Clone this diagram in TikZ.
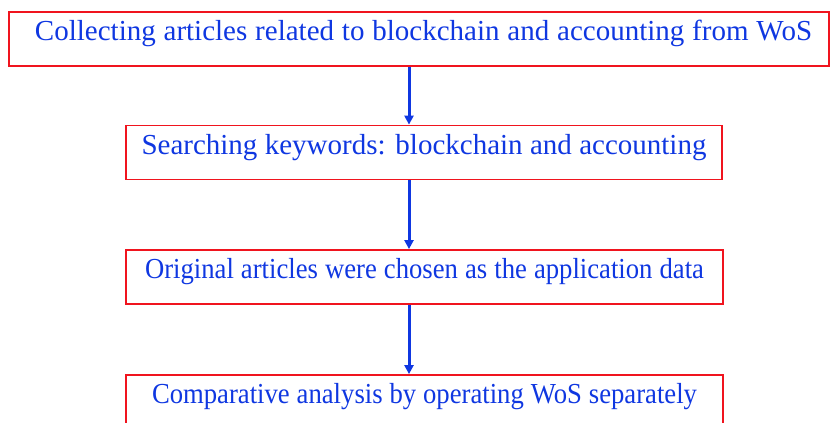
\documentclass[tikz,border=0pt]{standalone}
\usepackage{fontspec}
\setmainfont{Liberation Serif}
\usepackage{tikz}
\usetikzlibrary{arrows.meta}

\definecolor{boxred}{RGB}{240,20,30}
\definecolor{textblue}{RGB}{15,55,225}

\begin{document}
\begin{tikzpicture}[x=1pt,y=-1pt,
  thick,step box/.style={rectangle,draw=boxred,line width=1.8pt,
    text=textblue,font=\fontsize{29}{34}\selectfont,
    minimum height=54pt,inner sep=0pt,text height=20pt,text depth=16.8pt},
  narrow/.style={font=\fontsize{29}{34}\selectfont\addfontfeatures{FakeStretch=0.92}},
  flow arrow/.style={draw=textblue,line width=3pt,
    -{Triangle[length=9pt,width=9pt]}}]
  \useasboundingbox (0,0) rectangle (830,423);

  \node[step box,minimum width=820pt] (1) at (419,39)
    {\makebox[786pt][s]{\hspace{9pt}Collecting articles related to blockchain and accounting from WoS}};
  \node[step box,minimum width=596pt] (2) at (424,152.5)
    {\makebox[565pt][s]{Searching keywords: blockchain and accounting}};
  \node[step box,narrow,minimum width=597pt] (3) at (424.5,277)
    {\makebox[559pt][s]{Original articles were chosen as the application data}};
  \node[step box,narrow,minimum width=597pt] (4) at (424.5,402)
    {\makebox[545pt][s]{Comparative analysis by operating WoS separately}};

  \coordinate (ax) at (409,0);
  \draw[flow arrow] (1.south -| ax) -- (2.north -| ax);
  \draw[flow arrow] (2.south -| ax) -- (3.north -| ax);
  \draw[flow arrow] (3.south -| ax) -- (4.north -| ax);
\end{tikzpicture}
\end{document}
